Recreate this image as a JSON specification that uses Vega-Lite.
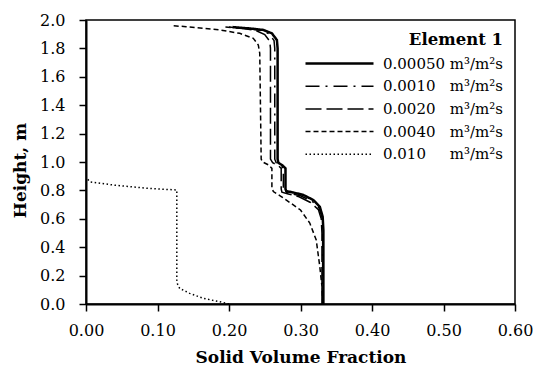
{
  "$schema": "https://vega.github.io/schema/vega-lite/v6.json",
  "width": 429,
  "height": 284,
  "autosize": {"type": "none"},
  "padding": {"left": 86, "top": 20, "right": 21, "bottom": 66},
  "background": "white",
  "config": {
    "view": {"stroke": "black", "strokeWidth": 1.5},
    "axis": {
      "grid": false,
      "domainColor": "black",
      "domainWidth": 2,
      "tickColor": "black",
      "tickWidth": 1.5,
      "tickSize": 7,
      "labelFlush": false,
      "labelOverlap": false,
      "labelFont": "DejaVu Serif",
      "labelFontSize": 16,
      "labelColor": "black",
      "titleFont": "DejaVu Serif",
      "titleFontSize": 17,
      "titleFontWeight": "bold",
      "titleColor": "black"
    },
    "legend": {
      "labelFont": "DejaVu Serif",
      "labelFontSize": 15,
      "labelColor": "black",
      "titleFont": "DejaVu Serif",
      "titleFontSize": 16.5,
      "titleFontWeight": "bold",
      "titleColor": "black"
    }
  },
  "data": {
    "values": [
      {"series": "0.00050", "x": 0.332, "h": 0.0},
      {"series": "0.00050", "x": 0.332, "h": 0.52},
      {"series": "0.00050", "x": 0.331, "h": 0.615},
      {"series": "0.00050", "x": 0.327, "h": 0.685},
      {"series": "0.00050", "x": 0.318, "h": 0.732},
      {"series": "0.00050", "x": 0.304, "h": 0.768},
      {"series": "0.00050", "x": 0.29, "h": 0.785},
      {"series": "0.00050", "x": 0.28, "h": 0.795},
      {"series": "0.00050", "x": 0.279, "h": 0.81},
      {"series": "0.00050", "x": 0.279, "h": 0.955},
      {"series": "0.00050", "x": 0.275, "h": 0.975},
      {"series": "0.00050", "x": 0.269, "h": 0.995},
      {"series": "0.00050", "x": 0.268, "h": 1.02},
      {"series": "0.00050", "x": 0.268, "h": 1.8},
      {"series": "0.00050", "x": 0.267, "h": 1.859},
      {"series": "0.00050", "x": 0.26, "h": 1.906},
      {"series": "0.00050", "x": 0.248, "h": 1.93},
      {"series": "0.00050", "x": 0.23, "h": 1.94},
      {"series": "0.00050", "x": 0.205, "h": 1.95},

      {"series": "0.0010", "x": 0.331, "h": 0.0},
      {"series": "0.0010", "x": 0.331, "h": 0.52},
      {"series": "0.0010", "x": 0.33, "h": 0.61},
      {"series": "0.0010", "x": 0.326, "h": 0.675},
      {"series": "0.0010", "x": 0.316, "h": 0.725},
      {"series": "0.0010", "x": 0.3, "h": 0.762},
      {"series": "0.0010", "x": 0.285, "h": 0.78},
      {"series": "0.0010", "x": 0.277, "h": 0.79},
      {"series": "0.0010", "x": 0.276, "h": 0.81},
      {"series": "0.0010", "x": 0.276, "h": 0.955},
      {"series": "0.0010", "x": 0.272, "h": 0.975},
      {"series": "0.0010", "x": 0.266, "h": 0.995},
      {"series": "0.0010", "x": 0.264, "h": 1.02},
      {"series": "0.0010", "x": 0.264, "h": 1.8},
      {"series": "0.0010", "x": 0.263, "h": 1.855},
      {"series": "0.0010", "x": 0.256, "h": 1.903},
      {"series": "0.0010", "x": 0.244, "h": 1.928},
      {"series": "0.0010", "x": 0.225, "h": 1.94},
      {"series": "0.0010", "x": 0.2, "h": 1.95},

      {"series": "0.0020", "x": 0.33, "h": 0.0},
      {"series": "0.0020", "x": 0.33, "h": 0.5},
      {"series": "0.0020", "x": 0.329, "h": 0.6},
      {"series": "0.0020", "x": 0.325, "h": 0.665},
      {"series": "0.0020", "x": 0.314, "h": 0.715},
      {"series": "0.0020", "x": 0.298, "h": 0.755},
      {"series": "0.0020", "x": 0.283, "h": 0.775},
      {"series": "0.0020", "x": 0.274, "h": 0.787},
      {"series": "0.0020", "x": 0.273, "h": 0.81},
      {"series": "0.0020", "x": 0.273, "h": 0.955},
      {"series": "0.0020", "x": 0.269, "h": 0.975},
      {"series": "0.0020", "x": 0.261, "h": 0.995},
      {"series": "0.0020", "x": 0.258, "h": 1.02},
      {"series": "0.0020", "x": 0.258, "h": 1.8},
      {"series": "0.0020", "x": 0.257, "h": 1.85},
      {"series": "0.0020", "x": 0.25, "h": 1.898},
      {"series": "0.0020", "x": 0.238, "h": 1.925},
      {"series": "0.0020", "x": 0.22, "h": 1.94},
      {"series": "0.0020", "x": 0.195, "h": 1.95},

      {"series": "0.0040", "x": 0.331, "h": 0.0},
      {"series": "0.0040", "x": 0.331, "h": 0.03},
      {"series": "0.0040", "x": 0.33, "h": 0.122},
      {"series": "0.0040", "x": 0.327, "h": 0.263},
      {"series": "0.0040", "x": 0.322, "h": 0.451},
      {"series": "0.0040", "x": 0.313, "h": 0.57},
      {"series": "0.0040", "x": 0.3, "h": 0.662},
      {"series": "0.0040", "x": 0.285, "h": 0.715},
      {"series": "0.0040", "x": 0.272, "h": 0.76},
      {"series": "0.0040", "x": 0.262, "h": 0.792},
      {"series": "0.0040", "x": 0.26, "h": 0.82},
      {"series": "0.0040", "x": 0.26, "h": 0.955},
      {"series": "0.0040", "x": 0.255, "h": 0.98},
      {"series": "0.0040", "x": 0.247, "h": 1.0},
      {"series": "0.0040", "x": 0.245, "h": 1.02},
      {"series": "0.0040", "x": 0.243, "h": 1.765},
      {"series": "0.0040", "x": 0.241, "h": 1.824},
      {"series": "0.0040", "x": 0.234, "h": 1.871},
      {"series": "0.0040", "x": 0.215, "h": 1.906},
      {"series": "0.0040", "x": 0.187, "h": 1.93},
      {"series": "0.0040", "x": 0.14, "h": 1.953},
      {"series": "0.0040", "x": 0.12, "h": 1.96},

      {"series": "0.010", "x": 0.2, "h": 0.0},
      {"series": "0.010", "x": 0.187, "h": 0.016},
      {"series": "0.010", "x": 0.164, "h": 0.04},
      {"series": "0.010", "x": 0.145, "h": 0.075},
      {"series": "0.010", "x": 0.131, "h": 0.11},
      {"series": "0.010", "x": 0.128, "h": 0.14},
      {"series": "0.010", "x": 0.127, "h": 0.169},
      {"series": "0.010", "x": 0.127, "h": 0.803},
      {"series": "0.010", "x": 0.085, "h": 0.815},
      {"series": "0.010", "x": 0.038, "h": 0.838},
      {"series": "0.010", "x": 0.006, "h": 0.86},
      {"series": "0.010", "x": 0.001, "h": 0.885}
    ]
  },
  "mark": {"type": "line", "color": "black", "clip": true},
  "encoding": {
    "x": {
      "field": "x",
      "type": "quantitative",
      "scale": {"domain": [0, 0.6], "nice": false},
      "axis": {
        "title": "Solid Volume Fraction",
        "values": [0, 0.1, 0.2, 0.3, 0.4, 0.5, 0.6],
        "format": ".2f",
        "labelPadding": 11,
        "titlePadding": 11
      }
    },
    "y": {
      "field": "h",
      "type": "quantitative",
      "scale": {"domain": [0, 2], "nice": false},
      "axis": {
        "title": "Height, m",
        "values": [0, 0.2, 0.4, 0.6, 0.8, 1.0, 1.2, 1.4, 1.6, 1.8, 2.0],
        "format": ".1f",
        "labelPadding": 14,
        "titlePadding": 10,
        "titleY": 150
      }
    },
    "order": {"field": "h", "type": "quantitative"},
    "strokeDash": {
      "field": "series",
      "type": "nominal",
      "scale": {
        "domain": ["0.00050", "0.0010", "0.0020", "0.0040", "0.010"],
        "range": [[1, 0], [14, 6, 2, 6], [16, 5], [5, 3], [1.5, 2.5]]
      },
      "legend": {
        "title": "Element 1",
        "orient": "none",
        "legendX": 218,
        "legendY": 12,
        "padding": 0,
        "symbolType": "stroke",
        "symbolSize": 4624,
        "symbolStrokeColor": "black",
        "clipHeight": 16,
        "rowPadding": 6.7,
        "titlePadding": 7,
        "titleAnchor": "end",
        "labelOffset": 8,
        "labelLimit": 300,
        "labelExpr": "pad(datum.label, 7, '\u2007') + '\u00a0m\u00b3/m\u00b2s'"
      }
    },
    "strokeWidth": {
      "field": "series",
      "type": "nominal",
      "scale": {
        "type": "ordinal",
        "domain": ["0.00050", "0.0010", "0.0020", "0.0040", "0.010"],
        "range": [2.5, 1.5, 1.5, 1.5, 1.5]
      },
      "legend": {
        "title": "Element 1"
      }
    }
  }
}
